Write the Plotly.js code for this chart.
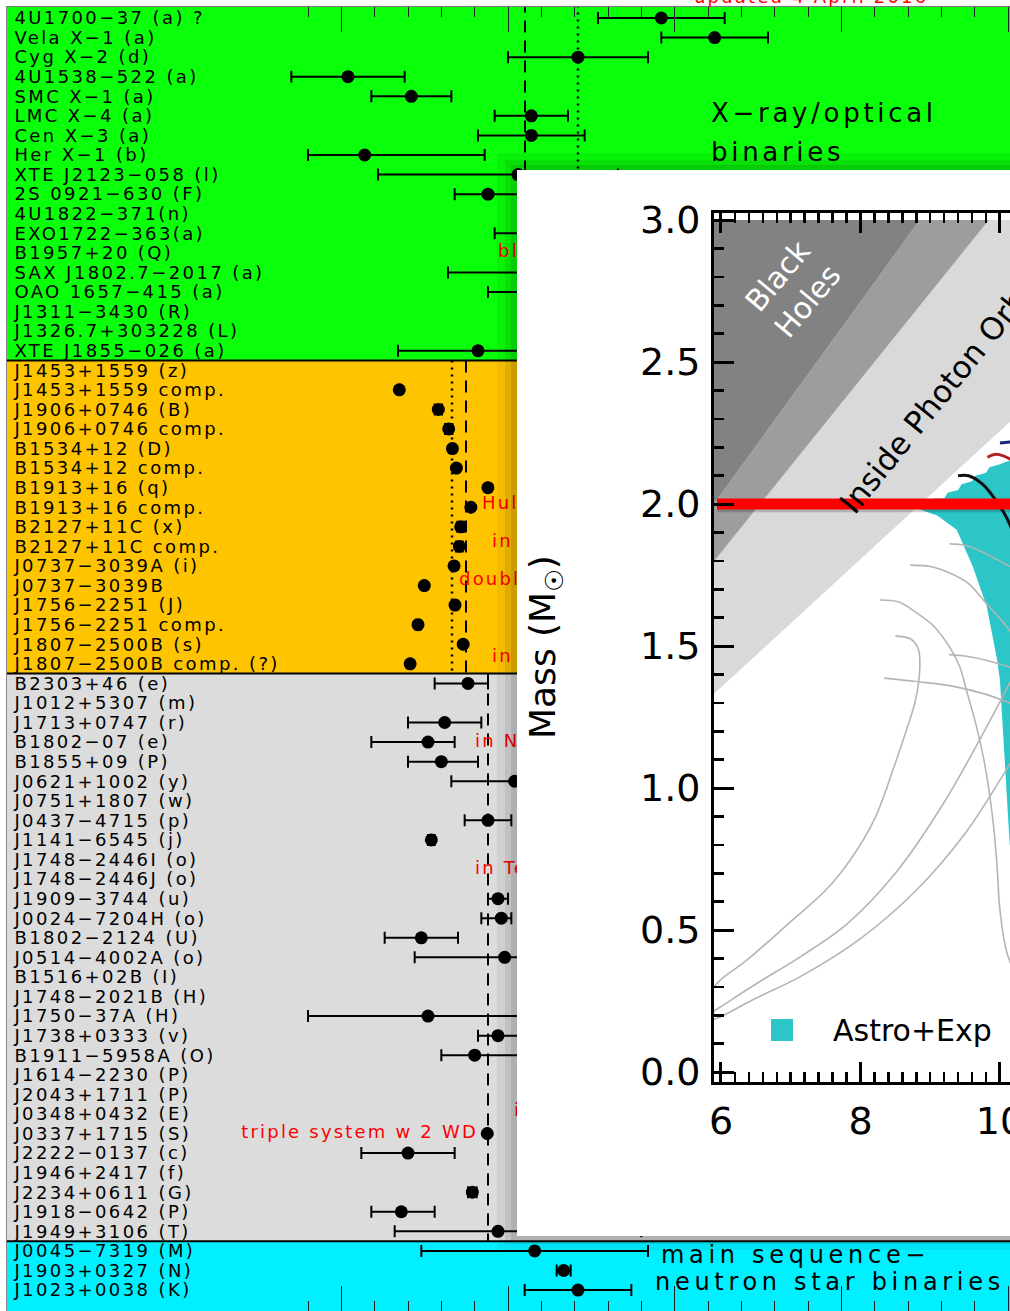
<!DOCTYPE html>
<html><head><meta charset="utf-8">
<script src="https://cdn.plot.ly/plotly-3.0.1.min.js"></script>
<style>
html,body{margin:0;padding:0;background:#fff;overflow:hidden;width:1010px;height:1311px}
#chart{width:1010px;height:1311px}
.ytick text{letter-spacing:2.4px}
</style></head><body><div id="chart"></div><script>
const W = 1010, H = 1311;
const fx = p => p / W;
const fy = p => 1 - p / H;

// ---------------- main chart data ----------------
const xrayNames = ["4U1700−37 (a) ?","Vela X−1 (a)","Cyg X−2 (d)","4U1538−522 (a)","SMC X−1 (a)","LMC X−4 (a)","Cen X−3 (a)","Her X−1 (b)","XTE J2123−058 (l)","2S 0921−630 (F)","4U1822−371(n)","EXO1722−363(a)","B1957+20 (Q)","SAX J1802.7−2017 (a)","OAO 1657−415 (a)","J1311−3430 (R)","J1326.7+303228 (L)","XTE J1855−026 (a)"];
const xrayMass  = [1.96,2.12,1.71,1.02,1.21,1.57,1.57,1.07,1.53,1.44,1.96,1.91,2.40,1.57,1.74,2.68,1.74,1.41];
const xrayErrLo = [0.19,0.16,0.21,0.17,0.12,0.11,0.16,0.17,0.42,0.10,0.36,0.45,0.12,0.25,0.30,0.14,0.18,0.24];
const xrayErrHi = [0.19,0.16,0.21,0.17,0.12,0.11,0.16,0.36,0.30,0.10,0.36,0.45,0.12,0.25,0.30,0.14,0.18,0.24];

const dnsNames = ["J1453+1559 (z)","J1453+1559 comp.","J1906+0746 (B)","J1906+0746 comp.","B1534+12 (D)","B1534+12 comp.","B1913+16 (q)","B1913+16 comp.","B2127+11C (x)","B2127+11C comp.","J0737−3039A (i)","J0737−3039B","J1756−2251 (J)","J1756−2251 comp.","J1807−2500B (s)","J1807−2500B comp. (?)"];
const dnsMass = [1.559,1.174,1.291,1.322,1.3332,1.3452,1.4398,1.3886,1.358,1.354,1.3381,1.2489,1.341,1.230,1.3655,1.2064];
const dnsErr  = [0.005,0.004,0.011,0.011,0.001,0.001,0.0002,0.0002,0.010,0.010,0.0007,0.0007,0.007,0.007,0.0021,0.002];

const wdNames = ["B2303+46 (e)","J1012+5307 (m)","J1713+0747 (r)","B1802−07 (e)","B1855+09 (P)","J0621+1002 (y)","J0751+1807 (w)","J0437−4715 (p)","J1141−6545 (j)","J1748−2446I (o)","J1748−2446J (o)","J1909−3744 (u)","J0024−7204H (o)","B1802−2124 (U)","J0514−4002A (o)","B1516+02B (I)","J1748−2021B (H)","J1750−37A (H)","J1738+0333 (v)","B1911−5958A (O)","J1614−2230 (P)","J2043+1711 (P)","J0348+0432 (E)","J0337+1715 (S)","J2222−0137 (c)","J1946+2417 (f)","J2234+0611 (G)","J1918−0642 (P)","J1949+3106 (T)"];
const wdMass  = [1.38,1.83,1.31,1.26,1.30,1.52,1.66,1.44,1.27,1.91,1.79,1.47,1.48,1.24,1.49,2.08,2.74,1.26,1.47,1.40,1.928,1.67,2.01,1.4378,1.20,1.828,1.393,1.18,1.47];
const wdErrLo = [0.10,0.11,0.11,0.17,0.10,0.19,0.10,0.07,0.01,0.10,0.04,0.03,0.06,0.11,0.27,0.19,0.21,0.36,0.06,0.10,0.017,0.08,0.04,0.0013,0.14,0.022,0.013,0.09,0.31];
const wdErrHi = [0.06,0.11,0.11,0.08,0.11,0.10,0.10,0.07,0.01,0.02,0.04,0.03,0.03,0.11,0.04,0.19,0.21,0.39,0.07,0.16,0.017,0.08,0.04,0.0013,0.14,0.022,0.013,0.10,0.43];

const msNames = ["J0045−7319 (M)","J1903+0327 (N)","J1023+0038 (K)"];
const msMass  = [1.58,1.667,1.71];
const msErrLo = [0.34,0.021,0.16];
const msErrHi = [0.34,0.021,0.16];

// group average mass lines
const meanLineMass  = [1.551, 1.71, 1.332, 1.374, 1.44];
const meanLineGroup = [0, 0, 1, 1, 2];
const meanLineDash  = ["dash", "dot", "dot", "dash", "dash"];

// red notes
const noteText = ["black widow","Hulse−Taylor","in globular cluster","double pulsar","in globular cluster","in NGC 6539","in Terzan 5","in","triple system w 2 WD"];
const noteMass = [1.47, 1.422, 1.452, 1.353, 1.452, 1.401, 1.401, 1.518, 1.41];
const noteRow  = [13, 25.85, 27.8, 29.72, 33.7, 38.0, 44.49, 56.9, 58];
const noteSide = ["middle right","middle right","middle right","middle right","middle right","middle right","middle right","middle right","middle left"];

// ---------------- inset data (radius km vs mass) ----------------
const bhR = [0, 8.85, 0],    bhM = [0, 3, 3];
const buchR = [0, 9.84, 8.85], buchM = [0, 3, 3];
const photR = [0, 13.29, 9.84], photM = [0, 3, 3];
const cyanR = [8.80,8.90,9.00,9.05,9.20,9.25,9.40,9.45,9.60,9.65,9.80,9.85,10.0,10.1,10.6,10.6,10.14,10.07,10.0,9.96,9.81,9.61,9.38,9.10,8.80];
const cyanM = [1.985,2.00,2.00,2.02,2.02,2.04,2.05,2.07,2.08,2.10,2.11,2.13,2.14,2.15,2.18,0.50,0.80,1.10,1.38,1.45,1.64,1.78,1.91,1.96,1.985];
const grayCurvesR = [
  [5.90,5.99,6.37,7.00,7.50,7.85,8.20,8.48,8.68,8.79,8.85,8.83,8.72,8.50],
  [5.90,5.99,6.50,7.13,7.80,8.50,9.20,9.96,10.3],
  [5.90,5.99,6.50,7.13,8.00,8.80,9.50,10.0,10.3],
  [8.28,8.55,8.81,9.05,9.28,9.42,9.53,9.66,9.77,9.85,9.91,9.96,10.0,10.1,10.3],
  [8.71,9.00,9.28,9.55,9.77,9.95,10.1,10.3],
  [8.34,8.80,9.30,9.80,10.14,10.3],
  [9.27,9.50,9.80,10.14,10.3],
  [9.28,9.50,9.76,10.14]
];
const grayCurvesM = [
  [0.30,0.324,0.394,0.53,0.64,0.746,0.89,1.074,1.22,1.31,1.42,1.49,1.525,1.535],
  [0.215,0.229,0.31,0.405,0.52,0.70,0.95,1.285,1.45],
  [0.185,0.194,0.26,0.335,0.47,0.64,0.84,1.028,1.15],
  [1.662,1.655,1.616,1.57,1.496,1.43,1.335,1.22,1.099,0.98,0.863,0.72,0.57,0.42,0.30],
  [1.785,1.78,1.757,1.72,1.66,1.61,1.567,1.50],
  [1.387,1.375,1.36,1.33,1.30,1.29],
  [1.47,1.465,1.45,1.426,1.41],
  [1.86,1.855,1.83,1.78]
];
const blackR = [9.40,9.55,9.75,9.95,10.1,10.25], blackM = [2.10,2.10,2.07,2.01,1.95,1.86];
const redR = [9.82,9.92,10.05,10.2], redM = [2.165,2.175,2.17,2.15];
const blueR = [10.0,10.2], blueM = [2.215,2.22];
const limitMass = 2.0;

// ---------------- build ----------------
const names = [...xrayNames, ...dnsNames, ...wdNames, ...msNames];
const mass  = [...xrayMass, ...dnsMass, ...wdMass, ...msMass];
const errLo = [...xrayErrLo, ...dnsErr, ...wdErrLo, ...msErrLo];
const errHi = [...xrayErrHi, ...dnsErr, ...wdErrHi, ...msErrHi];
const rows  = names.map((_, i) => i + 1);
const groupSizes = [xrayNames.length, dnsNames.length, wdNames.length, msNames.length];
const bounds = [0.5];
groupSizes.forEach(n => bounds.push(bounds[bounds.length - 1] + n));
const bandColors = ["#0aff0a", "#ffc400", "#dcdcdc", "#00f0ff"];

const ls = (t, s) => `<span style="letter-spacing:${s}px">${t}</span>`;

const traces = [];
traces.push({
  type: "scatter", mode: "markers", x: mass, y: rows, xaxis: "x", yaxis: "y",
  marker: {color: "black", size: 13},
  error_x: {type: "data", symmetric: false, array: errHi, arrayminus: errLo, color: "black", thickness: 2, width: 6},
  hoverinfo: "skip"
});
traces.push({
  type: "scatter", mode: "text", x: noteMass, y: noteRow, xaxis: "x", yaxis: "y",
  text: noteText.map(t => ls(t, 2.2)), textposition: noteSide,
  textfont: {family: "DejaVu Sans", size: 18, color: "#ff0000"}, hoverinfo: "skip"
});
// white box under the inset
traces.push({type: "scatter", mode: "markers", x: [0.5], y: [0.5], xaxis: "x2", yaxis: "y2", marker: {opacity: 0}, hoverinfo: "skip"});
// inset
const fillTrace = (x, y, c) => ({type: "scatter", mode: "lines", x, y, xaxis: "x3", yaxis: "y3", fill: "toself", fillcolor: c, line: {width: 0, color: c}, hoverinfo: "skip"});
traces.push(fillTrace(photR, photM, "#d9d9d9"));
traces.push(fillTrace(buchR, buchM, "#9d9d9d"));
traces.push(fillTrace(bhR, bhM, "#828282"));
traces.push(fillTrace(cyanR, cyanM, "#2cc6c8"));
grayCurvesR.forEach((r, i) => traces.push({type: "scatter", mode: "lines", x: r, y: grayCurvesM[i], xaxis: "x3", yaxis: "y3",
  line: {color: "#b5b5b5", width: 1.6, shape: "spline"}, hoverinfo: "skip"}));
traces.push({type: "scatter", mode: "lines", x: blackR, y: blackM, xaxis: "x3", yaxis: "y3", line: {color: "#111", width: 3, shape: "spline"}, hoverinfo: "skip"});
traces.push({type: "scatter", mode: "lines", x: redR, y: redM, xaxis: "x3", yaxis: "y3", line: {color: "#b22222", width: 3, shape: "spline"}, hoverinfo: "skip"});
traces.push({type: "scatter", mode: "lines", x: blueR, y: blueM, xaxis: "x3", yaxis: "y3", line: {color: "#1a237e", width: 3}, hoverinfo: "skip"});
traces.push({type: "scatter", mode: "lines", x: [5.943, 10.6], y: [limitMass - 0.022, limitMass - 0.022], xaxis: "x3", yaxis: "y3", line: {color: "rgba(0,0,0,0.18)", width: 4}, hoverinfo: "skip"});
traces.push({type: "scatter", mode: "lines", x: [5.943, 10.6], y: [limitMass, limitMass], xaxis: "x3", yaxis: "y3", line: {color: "#ff0000", width: 11}, hoverinfo: "skip"});

const shapes = [];
bandColors.forEach((c, i) => shapes.push({type: "rect", xref: "x", yref: "y", x0: -1, x1: 4,
  y0: i === 0 ? -5 : bounds[i], y1: i === 3 ? 80 : bounds[i + 1], fillcolor: c, line: {width: 0}, layer: "below"}));
meanLineMass.forEach((m, i) => {
  const g = meanLineGroup[i];
  shapes.push({type: "line", xref: "x", yref: "y", x0: m, x1: m, y0: g === 0 ? -5 : bounds[g], y1: bounds[g + 1],
    line: {color: "black", width: meanLineDash[i] === "dot" ? 2.5 : 2, dash: meanLineDash[i] === "dot" ? "2px,5px" : "12px,8px"}, layer: "below"});
});
[1, 2, 3].forEach(i => shapes.push({type: "line", xref: "x", yref: "y", x0: -1, x1: 4, y0: bounds[i], y1: bounds[i], line: {color: "black", width: 2}, layer: "below"}));
// drop shadow around the inset
const shadow = (x0, x1, y0, y1, a) => shapes.push({type: "rect", xref: "paper", yref: "paper", x0: fx(x0), x1: fx(x1), y0: fy(y1), y1: fy(y0), fillcolor: `rgba(0,0,0,${a})`, line: {width: 0}, layer: "above"});
shadow(497, 517, 153, 1250, 0.05); shadow(505, 517, 160, 1244, 0.07); shadow(511, 517, 165, 1240, 0.09);
shadow(517, 1010, 153, 170, 0.05); shadow(517, 1010, 160, 170, 0.07); shadow(517, 1010, 165, 170, 0.09);
shadow(517, 1010, 1236, 1250, 0.05); shadow(517, 1010, 1236, 1244, 0.07); shadow(517, 1010, 1236, 1240, 0.09);
// legend square
shapes.push({type: "rect", xref: "paper", yref: "paper", x0: fx(771), x1: fx(793), y0: fy(1041), y1: fy(1019), fillcolor: "#2cc6c8", line: {width: 0}, layer: "above"});

const ann = (text, x, y, o) => Object.assign({text, x: fx(x), y: fy(y), xref: "paper", yref: "paper", showarrow: false, borderpad: 0,
  xanchor: "left", yanchor: "middle"}, o);
const annotations = [
  ann(ls("updated 4 April 2016", 2.2), 693, -3.6, {font: {family: "DejaVu Sans", size: 18, color: "#ff0000"}}),
  ann(ls("X−ray/optical", 3.7), 710, 112.5, {font: {family: "DejaVu Sans", size: 26, color: "black"}}),
  ann(ls("binaries", 3.7), 710, 151.5, {font: {family: "DejaVu Sans", size: 26, color: "black"}}),
  ann(ls("main sequence−", 4.7), 660, 1255, {font: {family: "DejaVu Sans", size: 24, color: "black"}}),
  ann(ls("neutron star binaries", 4.7), 654, 1282, {font: {family: "DejaVu Sans", size: 24, color: "black"}}),
  ann("Mass (M<sub>☉</sub>)", 545, 647, {xanchor: "center", textangle: -90, font: {family: "DejaVu Sans", size: 36, color: "black"}}),
  ann("Black<br>Holes", 792, 289, {xanchor: "center", textangle: -50, font: {family: "DejaVu Sans", size: 30, color: "white"}}),
  ann("Inside Photon Orbit", 940, 393, {xanchor: "center", textangle: -51, font: {family: "DejaVu Sans", size: 31, color: "black"}}),
  ann("Astro+Exp", 832, 1030, {font: {family: "DejaVu Sans", size: 30, color: "black"}})
];

const rowPx0 = 18, rowStep = 19.57;
const layout = {
  width: W, height: H, margin: {l: 0, r: 0, t: 0, b: 0},
  paper_bgcolor: "white", plot_bgcolor: "white", showlegend: false, hovermode: false,
  font: {family: "DejaVu Sans", color: "black"},
  xaxis: {domain: [fx(7), 1], range: [-0.003, 3.006], anchor: "y", showgrid: false, zeroline: false,
    tickmode: "linear", tick0: 0, dtick: 0.5, ticks: "inside", ticklen: 25, tickwidth: 1, tickcolor: "#222",
    minor: {dtick: 0.1, ticks: "inside", ticklen: 10, tickwidth: 1, tickcolor: "#222", showgrid: false},
    showticklabels: false, showline: true, linecolor: "#777", linewidth: 1, mirror: "ticks"},
  yaxis: {domain: [0, fy(7)], range: [1 + (H - rowPx0) / rowStep, 1 + (7 - rowPx0) / rowStep], anchor: "x",
    showgrid: false, zeroline: false, tickmode: "array", tickvals: rows, ticktext: names, ticks: "",
    ticklabelposition: "inside", ticklabelstandoff: 8, tickfont: {family: "DejaVu Sans", size: 18, color: "black"},
    showline: true, linecolor: "#888", linewidth: 1},
  xaxis2: {domain: [fx(517), 1], range: [0, 1], anchor: "y2", visible: false},
  yaxis2: {domain: [fy(1236), fy(170)], range: [0, 1], anchor: "x2", visible: false},
  xaxis3: {domain: [fx(714), 1], range: [5.9, 10.144], anchor: "y3", showgrid: false, zeroline: false,
    tickmode: "linear", tick0: 0, dtick: 2, ticks: "inside", ticklen: 20, tickwidth: 3, tickcolor: "black",
    minor: {dtick: 0.2, ticks: "inside", ticklen: 10, tickwidth: 2.5, tickcolor: "black", showgrid: false},
    showline: true, linewidth: 3, linecolor: "black", mirror: "ticks", ticklabelstandoff: 3, ticklabeloverflow: "allow",
    tickfont: {family: "DejaVu Sans", size: 38, color: "black"}},
  yaxis3: {domain: [fy(1082), fy(213)], range: [-0.035, 3.025], anchor: "x3", showgrid: false, zeroline: false,
    tickmode: "linear", tick0: 0, dtick: 0.5, tickformat: ".1f", ticks: "inside", ticklen: 20, tickwidth: 3, tickcolor: "black",
    minor: {dtick: 0.1, ticks: "inside", ticklen: 10, tickwidth: 2.5, tickcolor: "black", showgrid: false},
    showline: true, linewidth: 3, linecolor: "black", ticklabelstandoff: 3, ticklabeloverflow: "allow",
    tickfont: {family: "DejaVu Sans", size: 38, color: "black"}},
  shapes, annotations
};

Plotly.newPlot("chart", traces, layout, {staticPlot: true, displayModeBar: false});
</script></body></html>
